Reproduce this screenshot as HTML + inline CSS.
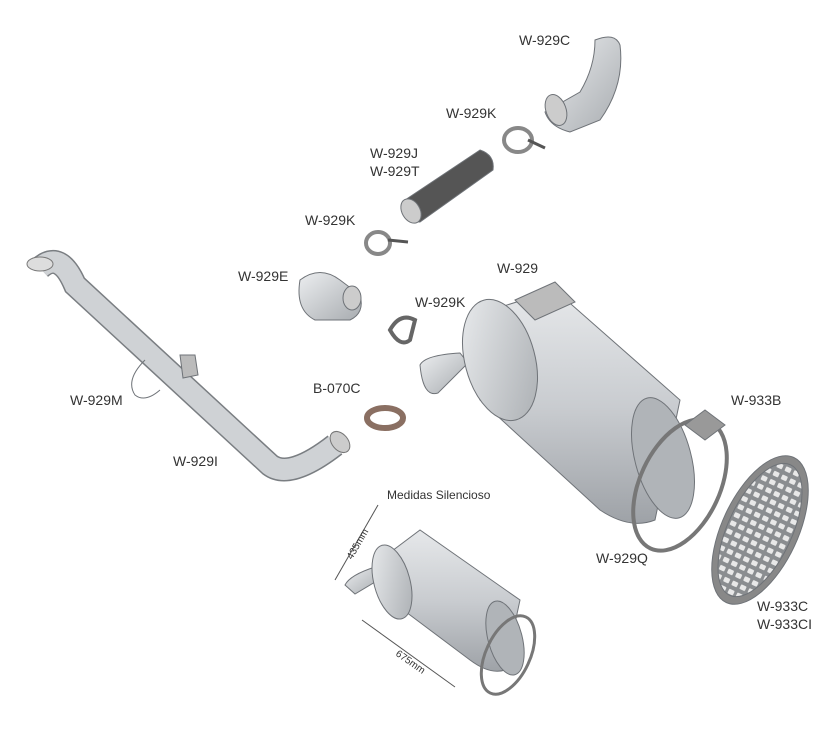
<!DOCTYPE html>
<html><head><meta charset="utf-8"><style>
html,body{margin:0;padding:0;background:#fff;}
svg{display:block}
text{font-family:"Liberation Sans",sans-serif;font-size:14px;fill:#333;}
</style></head><body>
<svg width="838" height="732" viewBox="0 0 838 732" xmlns="http://www.w3.org/2000/svg">
<defs>
<linearGradient id="g" x1="0" y1="0" x2="0" y2="1"><stop offset="0" stop-color="#e6e8ea"/><stop offset="0.5" stop-color="#c9ccd0"/><stop offset="1" stop-color="#9ea2a7"/></linearGradient>
<linearGradient id="g2" x1="0" y1="0" x2="1" y2="1"><stop offset="0" stop-color="#eceef0"/><stop offset="1" stop-color="#a8acb0"/></linearGradient>
<pattern id="holes" width="9" height="9" patternUnits="userSpaceOnUse"><rect width="9" height="9" fill="#8a8d90"/><rect x="1" y="2" width="6" height="5" rx="1" fill="#e8e8e8"/></pattern>
</defs>
<!-- long pipe W-929I -->
<path d="M40 268 Q60 250 75 285 L270 465 Q290 480 335 445" fill="none" stroke="#7a7e82" stroke-width="24"/>
<path d="M40 268 Q60 250 75 285 L270 465 Q290 480 335 445" fill="none" stroke="#cfd2d5" stroke-width="21"/>
<ellipse cx="40" cy="264" rx="13" ry="7" fill="#ddd" stroke="#777"/>
<ellipse cx="340" cy="442" rx="8" ry="12" transform="rotate(-40 340 442)" fill="#ccc" stroke="#777"/>
<g stroke="#6f7378" stroke-width="1" fill="url(#g2)">
<path d="M180 355 l15 0 l3 20 l-15 3z" fill="#bbb"/>
<path d="M145 360 q-20 20 -10 35 q10 8 25 -5" fill="none"/>
<!-- W-929C elbow -->
<path d="M595 40 q20 -8 25 5 q5 40 -20 75 l-30 12 q-20 -5 -25 -20 l35 -20 q15 -25 15 -52z"/>
<ellipse cx="556" cy="110" rx="10" ry="16" transform="rotate(-20 556 110)" fill="#ccc"/>
<ellipse cx="518" cy="140" rx="14" ry="12" fill="none" stroke-width="4" stroke="#888"/>
<line x1="528" y1="140" x2="545" y2="148" stroke="#555" stroke-width="3"/>
<path d="M405 200 L480 150 Q495 155 493 170 L420 222 Q402 222 405 200Z" fill="#555"/>
<ellipse cx="411" cy="211" rx="9" ry="13" transform="rotate(-30 411 211)" fill="#ccc"/>
<ellipse cx="378" cy="243" rx="12" ry="11" fill="none" stroke-width="4" stroke="#888"/>
<line x1="388" y1="240" x2="408" y2="242" stroke="#555" stroke-width="3"/>
<path d="M300 280 q20 -15 40 0 l20 15 q5 18 -10 25 l-35 0 q-20 -10 -15 -40z"/>
<ellipse cx="352" cy="298" rx="9" ry="12" fill="#ccc"/>
<path d="M390 330 q10 -18 25 -10 l-5 20 q-10 8 -20 -10z" fill="none" stroke="#666" stroke-width="4"/>
<ellipse cx="385" cy="418" rx="18" ry="10" fill="none" stroke="#8a6f62" stroke-width="6"/>
<path d="M420 365 q5 -10 40 -12 l8 10 l-30 30 q-15 5 -18 -28z"/>
<path d="M475 315 L555 290 L680 400 L655 520 Q630 530 600 510 L480 400 Q460 355 475 315Z" fill="url(#g)"/>
<ellipse cx="500" cy="360" rx="35" ry="62" transform="rotate(-15 500 360)"/>
<path d="M515 300 l40 -18 l20 20 l-40 18z" fill="#bbb"/>
<ellipse cx="663" cy="458" rx="28" ry="62" transform="rotate(-15 663 458)" fill="#b0b4b8"/>
<ellipse cx="680" cy="485" rx="40" ry="70" transform="rotate(25 680 485)" fill="none" stroke="#777" stroke-width="4"/>
<path d="M685 425 l20 -15 l20 15 l-20 15z" fill="#999"/>
<ellipse cx="760" cy="530" rx="38" ry="80" transform="rotate(25 760 530)" fill="#888"/>
<ellipse cx="760" cy="530" rx="32" ry="72" transform="rotate(25 760 530)" fill="url(#holes)"/>
<path d="M345 585 q5 -10 30 -18 l5 12 l-25 15z"/>
<path d="M380 560 L420 530 L520 600 L505 670 Q490 675 470 660 L390 600 Q370 585 380 560Z" fill="url(#g)"/>
<ellipse cx="392" cy="582" rx="18" ry="38" transform="rotate(-15 392 582)"/>
<ellipse cx="505" cy="638" rx="17" ry="38" transform="rotate(-15 505 638)" fill="#b0b4b8"/>
<ellipse cx="508" cy="655" rx="22" ry="42" transform="rotate(25 508 655)" fill="none" stroke="#777" stroke-width="3"/>
</g>
<g stroke="#555" fill="none">
<line x1="335" y1="580" x2="378" y2="505"/>
<line x1="362" y1="620" x2="455" y2="687"/>
</g>
<text x="519" y="45">W-929C</text>
<text x="446" y="118">W-929K</text>
<text x="370" y="158">W-929J</text>
<text x="370" y="176">W-929T</text>
<text x="305" y="225">W-929K</text>
<text x="238" y="281">W-929E</text>
<text x="497" y="273">W-929</text>
<text x="415" y="307">W-929K</text>
<text x="70" y="405">W-929M</text>
<text x="313" y="393">B-070C</text>
<text x="173" y="466">W-929I</text>
<text x="731" y="405">W-933B</text>
<text x="387" y="499" style="font-size:12px">Medidas Silencioso</text>
<text x="596" y="563">W-929Q</text>
<text x="757" y="611">W-933C</text>
<text x="757" y="629">W-933CI</text>
<text x="0" y="0" style="font-size:10px" transform="translate(352 560) rotate(-60)">435mm</text>
<text x="0" y="0" style="font-size:10px" transform="translate(395 655) rotate(35)">675mm</text>
</svg>
</body></html>
